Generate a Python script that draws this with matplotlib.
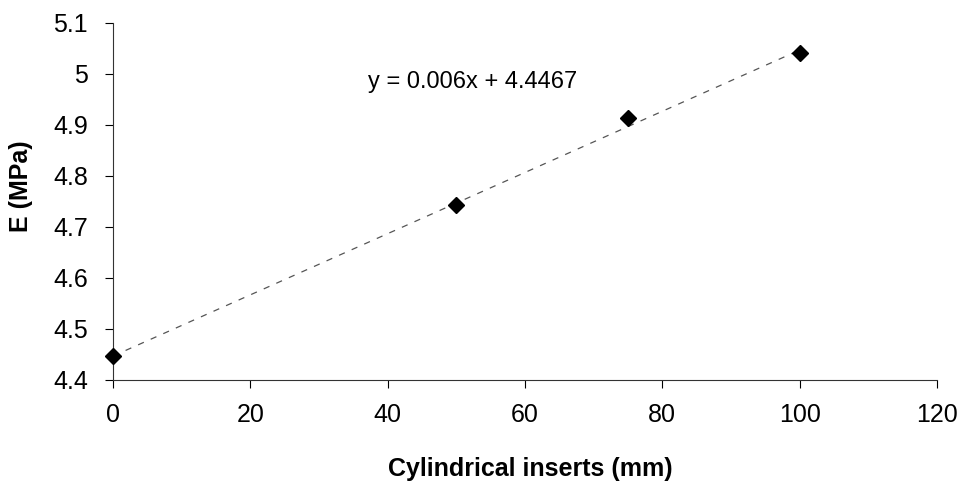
import numpy as np
import matplotlib
matplotlib.use("Agg")
from matplotlib import pyplot as plt

plt.rcParams['font.family'] = ['Liberation Sans', 'DejaVu Sans']

inserts = [0, 50, 75, 100]
modulus = [4.447, 4.742, 4.913, 5.04]
slope = 0.006
intercept = 4.4467
xticks = [0, 20, 40, 60, 80, 100, 120]
yticks = [4.4, 4.5, 4.6, 4.7, 4.8, 4.9, 5.0, 5.1]
ytick_labels = ["4.4", "4.5", "4.6", "4.7", "4.8", "4.9", "5", "5.1"]

fig = plt.figure(figsize=(9.66, 4.87), dpi=100)
ax = fig.add_axes([0.117, 0.22, 0.853, 0.733])

# trendline
xl = np.array([0, 100])
ax.plot(xl, slope * xl + intercept, color='#555555', lw=0.9, ls=(0, (5, 6)))
ax.plot(inserts, modulus, ls='none', marker='D', ms=8, color='black',
        markeredgecolor='black', clip_on=False, zorder=3)

ax.text(37.1, 4.973, "y = 0.006x + 4.4467", fontsize=17, va='baseline', ha='left')

ax.set_xlim(0, 120)
ax.set_ylim(4.4, 5.1)
ax.set_xticks(xticks)
ax.set_yticks(yticks)
ax.set_yticklabels(ytick_labels)
ax.tick_params(labelsize=18, direction='out', length=6, width=0.8)
ax.tick_params(axis='x', pad=11)
ax.tick_params(axis='y', pad=12)
for s in ['top', 'right']:
    ax.spines[s].set_visible(False)
for s in ['left', 'bottom']:
    ax.spines[s].set_linewidth(0.8)
    ax.spines[s].set_color('#333333')

ax.set_xlabel("Cylindrical inserts (mm)", fontsize=18, fontweight='bold')
ax.set_ylabel("E (MPa)", fontsize=18, fontweight='bold')
ax.xaxis.set_label_coords(0.507, -0.216)
ax.yaxis.set_label_coords(-0.097, 0.543)

fig.savefig("out.png", dpi=100)
